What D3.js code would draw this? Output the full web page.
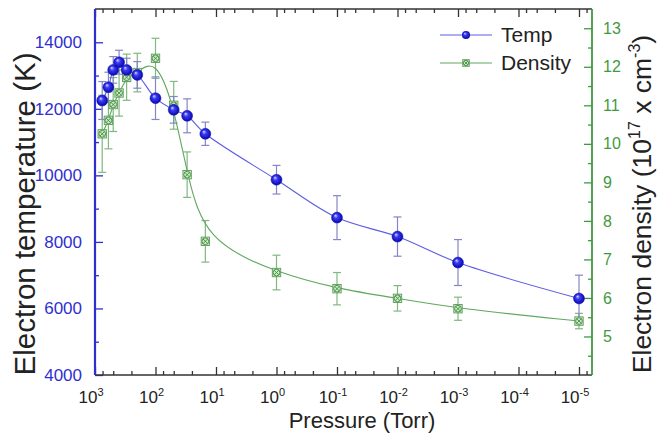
<!DOCTYPE html>
<html>
<head>
<meta charset="utf-8">
<script src="https://cdn.jsdelivr.net/npm/d3@7"></script>
<style>
    body { margin: 0; background: #fff; }
    text { font-family: Arial, "Liberation Sans", sans-serif; }
</style>
</head>
<body>
<svg id="chart" width="660" height="436"></svg>
<script>
// Data
const pressure = [760, 600, 500, 400, 300, 200, 100, 50, 30, 15, 1, 0.1, 0.01, 0.001, 0.00001];
const tempK = [12250, 12650, 13170, 13400, 13170, 13020, 12320, 11970, 11790, 11250, 9870, 8730, 8160, 7380, 6300];
const tempErr = [570, 450, 400, 360, 350, 400, 640, 400, 510, 350, 430, 660, 590, 690, 700];
const density = [10.26, 10.61, 11.02, 11.32, 11.73, 11.85, 12.22, 11.0, 9.2, 7.47, 6.66, 6.24, 5.99, 5.72, 5.4];
const densityErr = [1.0, 0.74, 0.7, 0.6, 0.6, 0.5, 0.52, 0.62, 0.59, 0.54, 0.45, 0.42, 0.33, 0.3, 0.2];

const xExponents = [3, 2, 1, 0, -1, -2, -3, -4, -5];
const tempTicks = [4000, 6000, 8000, 10000, 12000, 14000];
const densTicks = [5, 6, 7, 8, 9, 10, 11, 12, 13];

const blue = "#2f2fd0";
const green = "#3f9a3f";

const svg = d3.select("#chart");
const plotLeft = 95, plotRight = 592, plotTop = 9, plotBottom = 375;

const x = d3.scaleLog().domain([1e3, Math.pow(10, -5.215)]).range([plotLeft, plotRight]);
const yT = d3.scaleLinear().domain([4000, 15000]).range([plotBottom, plotTop]);
const yD = d3.scaleLinear().domain([4, 13.5]).range([plotBottom, plotTop]);

// log minor ticks, Origin style (linear steps inside each decade)
const xMajor = xExponents.map((e) => Math.pow(10, e));
const xMinor = [];
xExponents.forEach((e) => {
    [7.5, 5, 2.5].forEach((m) => {
        const v = m * Math.pow(10, e - 1);
        if (e > -5 || v >= 1e-5) xMinor.push(v);
    });
});
xMinor.push(7.5e-6);
const tempMinor = d3.range(5000, 15000, 2000);
const densMinor = d3.range(4.5, 13.5, 1);

// gradient for the sphere markers
const defs = svg.append("defs");
const grad = defs.append("radialGradient").attr("id", "ball")
    .attr("cx", "50%").attr("cy", "50%").attr("r", "55%")
    .attr("fx", "35%").attr("fy", "30%");
grad.append("stop").attr("offset", "0%").attr("stop-color", "#d8d8ff");
grad.append("stop").attr("offset", "35%").attr("stop-color", "#3b3bf5");
grad.append("stop").attr("offset", "100%").attr("stop-color", "#0000a0");

// ---- axes ----
function styleAxis(g, color) {
    g.select(".domain").remove();
    g.selectAll("line").attr("stroke", color).attr("stroke-width", 1.3);
    g.selectAll("text").attr("fill", color)
        .attr("font-family", "Arial, 'Liberation Sans', sans-serif");
}

// bottom
svg.append("g").attr("transform", `translate(0,${plotBottom})`)
    .call(d3.axisBottom(x).tickValues(xMajor).tickSize(-8).tickFormat(""))
    .call((g) => styleAxis(g, "#333"));
svg.append("g").attr("transform", `translate(0,${plotBottom})`)
    .call(d3.axisBottom(x).tickValues(xMinor).tickSize(-4).tickFormat(""))
    .call((g) => styleAxis(g, "#333"));
// top mirror
svg.append("g").attr("transform", `translate(0,${plotTop})`)
    .call(d3.axisTop(x).tickValues(xMajor).tickSize(-8).tickFormat(""))
    .call((g) => styleAxis(g, "#333"));
svg.append("g").attr("transform", `translate(0,${plotTop})`)
    .call(d3.axisTop(x).tickValues(xMinor).tickSize(-4).tickFormat(""))
    .call((g) => styleAxis(g, "#333"));

// bottom labels with superscripts
const xLab = svg.append("g").attr("font-size", 17).attr("fill", "#222");
xExponents.forEach((e) => {
    const t = xLab.append("text")
        .attr("x", x(Math.pow(10, e)) - 4)
        .attr("y", 403)
        .attr("text-anchor", "middle");
    t.append("tspan").text("10");
    t.append("tspan").attr("dy", -7).attr("font-size", 11).text(e);
});

// left (temperature)
svg.append("g").attr("transform", `translate(${plotLeft},0)`)
    .call(d3.axisLeft(yT).tickValues(tempTicks).tickSize(-8).tickPadding(13).tickFormat(d3.format("d")))
    .call((g) => styleAxis(g, blue))
    .call((g) => g.selectAll("text").attr("font-size", 17));
svg.append("g").attr("transform", `translate(${plotLeft},0)`)
    .call(d3.axisLeft(yT).tickValues(tempMinor).tickSize(-4).tickFormat(""))
    .call((g) => styleAxis(g, blue));

// right (density)
svg.append("g").attr("transform", `translate(${plotRight},0)`)
    .call(d3.axisRight(yD).tickValues(densTicks).tickSize(-8).tickPadding(11).tickFormat(d3.format("d")))
    .call((g) => styleAxis(g, green))
    .call((g) => g.selectAll("text").attr("font-size", 16));
svg.append("g").attr("transform", `translate(${plotRight},0)`)
    .call(d3.axisRight(yD).tickValues(densMinor).tickSize(-4).tickFormat(""))
    .call((g) => styleAxis(g, green));

// frame lines
svg.append("line").attr("x1", plotLeft).attr("x2", plotRight).attr("y1", plotTop).attr("y2", plotTop)
    .attr("stroke", "#333").attr("stroke-width", 1.3);
svg.append("line").attr("x1", plotLeft).attr("x2", plotRight).attr("y1", plotBottom).attr("y2", plotBottom)
    .attr("stroke", "#333").attr("stroke-width", 1.5);
svg.append("line").attr("x1", plotLeft).attr("x2", plotLeft).attr("y1", plotTop).attr("y2", plotBottom)
    .attr("stroke", blue).attr("stroke-width", 2.2);
svg.append("line").attr("x1", plotRight).attr("x2", plotRight).attr("y1", plotTop).attr("y2", plotBottom)
    .attr("stroke", green).attr("stroke-width", 1.8);

// ---- data ----
const rows = pressure.map((p, i) => ({
    p, t: tempK[i], te: tempErr[i], d: density[i], de: densityErr[i]
}));

// density error bars
const dErr = svg.append("g").attr("stroke", "#7fb87f").attr("stroke-width", 1.2);
rows.forEach((r) => {
    const cx = x(r.p);
    dErr.append("line").attr("x1", cx).attr("x2", cx)
        .attr("y1", yD(r.d + r.de)).attr("y2", yD(r.d - r.de));
    [r.d + r.de, r.d - r.de].forEach((v) => {
        dErr.append("line").attr("x1", cx - 4).attr("x2", cx + 4)
            .attr("y1", yD(v)).attr("y2", yD(v));
    });
});

// temperature error bars
const tErr = svg.append("g").attr("stroke", "#8585c8").attr("stroke-width", 1.2);
rows.forEach((r) => {
    const cx = x(r.p);
    tErr.append("line").attr("x1", cx).attr("x2", cx)
        .attr("y1", yT(r.t + r.te)).attr("y2", yT(r.t - r.te));
    [r.t + r.te, r.t - r.te].forEach((v) => {
        tErr.append("line").attr("x1", cx - 4).attr("x2", cx + 4)
            .attr("y1", yT(v)).attr("y2", yT(v));
    });
});

// lines
svg.append("path").datum(rows)
    .attr("fill", "none").attr("stroke", "#5fa85f").attr("stroke-width", 1.1)
    .attr("d", d3.line().x((d) => x(d.p)).y((d) => yD(d.d)).curve(d3.curveBasis));
svg.append("path").datum(rows)
    .attr("fill", "none").attr("stroke", "#5c5ce6").attr("stroke-width", 1.1)
    .attr("d", d3.line().x((d) => x(d.p)).y((d) => yT(d.t)).curve(d3.curveCatmullRom));

// density markers (square with circled x)
function densityMarker(g, cx, cy, s) {
    const m = g.append("g").attr("transform", `translate(${cx},${cy})`);
    m.append("rect").attr("x", -s).attr("y", -s).attr("width", 2 * s).attr("height", 2 * s)
        .attr("fill", "#cfe8c8").attr("stroke", "#5a9d5a").attr("stroke-width", 0.9);
    m.append("circle").attr("r", s * 0.8).attr("fill", "none")
        .attr("stroke", "#3f8f3f").attr("stroke-width", 0.9);
    const k = s * 0.55;
    m.append("path").attr("d", `M${-k},${-k}L${k},${k}M${-k},${k}L${k},${-k}`)
        .attr("stroke", "#3f8f3f").attr("stroke-width", 0.9);
}
const dMarks = svg.append("g");
rows.forEach((r) => densityMarker(dMarks, x(r.p), yD(r.d), 4.2));

// temperature markers
svg.append("g").selectAll("circle").data(rows).enter().append("circle")
    .attr("cx", (d) => x(d.p)).attr("cy", (d) => yT(d.t)).attr("r", 5.5)
    .attr("fill", "url(#ball)").attr("stroke", "#1a1ab8").attr("stroke-width", 0.5);

// ---- legend ----
const lg = svg.append("g").attr("font-size", 21).attr("fill", "#222");
lg.append("line").attr("x1", 440).attr("x2", 492).attr("y1", 35).attr("y2", 35)
    .attr("stroke", "#5c5ce6").attr("stroke-width", 1.2);
lg.append("circle").attr("cx", 466).attr("cy", 35).attr("r", 4)
    .attr("fill", "url(#ball)");
lg.append("text").attr("x", 501).attr("y", 42).text("Temp");
lg.append("line").attr("x1", 440).attr("x2", 492).attr("y1", 63).attr("y2", 63)
    .attr("stroke", "#5fa85f").attr("stroke-width", 1.2);
densityMarker(lg, 466, 63, 3.3);
lg.append("text").attr("x", 501).attr("y", 70).text("Density");

// ---- axis titles ----
svg.append("text")
    .attr("transform", `translate(35,214) rotate(-90)`)
    .attr("text-anchor", "middle").attr("font-size", 29.5).attr("fill", "#222")
    .text("Electron temperature (K)");

const rt = svg.append("text")
    .attr("transform", `translate(651,204) rotate(-90)`)
    .attr("text-anchor", "middle").attr("font-size", 26.5).attr("fill", "#222");
rt.append("tspan").text("Electron density (10");
rt.append("tspan").attr("dy", -11).attr("font-size", 16).text("17");
rt.append("tspan").attr("dy", 11).text(" x cm");
rt.append("tspan").attr("dy", -11).attr("font-size", 16).text("-3");
rt.append("tspan").attr("dy", 11).text(")");

svg.append("text").attr("x", 362).attr("y", 428)
    .attr("text-anchor", "middle").attr("font-size", 22).attr("fill", "#222")
    .text("Pressure (Torr)");
</script>
</body>
</html>
